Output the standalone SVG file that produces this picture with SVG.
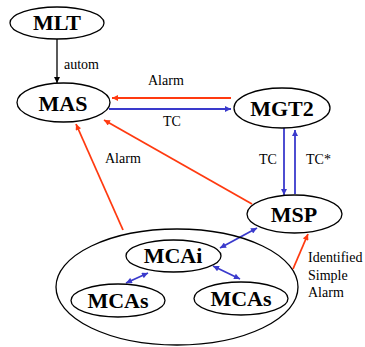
<svg xmlns="http://www.w3.org/2000/svg" width="365" height="347" viewBox="0 0 365 347">
<style>
.node{fill:#fff;stroke:#000;stroke-width:1.3}
.nt{font-weight:bold;font-size:22px;text-anchor:middle;fill:#000}
.lb{font-size:14px;fill:#000}
.k{stroke:#000;stroke-width:1.3;fill:none}
.r{stroke:#ff3a10;stroke-width:1.8;fill:none}
.b{stroke:#3a3acc;stroke-width:1.8;fill:none}
</style>
<defs>
<marker id="ak" viewBox="0 0 10 10" refX="10" refY="5" markerWidth="7" markerHeight="6" orient="auto" markerUnits="userSpaceOnUse"><path d="M0,0L10,5L0,10z" fill="#000"/></marker>
<marker id="ar" viewBox="0 0 10 10" refX="10" refY="5" markerWidth="7" markerHeight="6" orient="auto" markerUnits="userSpaceOnUse"><path d="M0,0L10,5L0,10z" fill="#ff3a10"/></marker>
<marker id="ab" viewBox="0 0 10 10" refX="10" refY="5" markerWidth="7" markerHeight="6" orient="auto-start-reverse" markerUnits="userSpaceOnUse"><path d="M0,0L10,5L0,10z" fill="#3a3acc"/></marker>
</defs>
<g font-family="Liberation Serif, serif">
<g id="connectors">
<line class="k" x1="57" y1="39" x2="57" y2="83" marker-end="url(#ak)"/>
<line class="r" x1="231" y1="98" x2="112" y2="98" marker-end="url(#ar)"/>
<line class="b" x1="109" y1="109" x2="231" y2="109" marker-end="url(#ab)"/>
<line class="b" x1="284" y1="127" x2="284" y2="195" marker-end="url(#ab)"/>
<line class="b" x1="295" y1="194" x2="295" y2="130" marker-end="url(#ab)"/>
<line class="r" x1="252" y1="204" x2="104" y2="120" marker-end="url(#ar)"/>
<line class="r" x1="123" y1="230" x2="76" y2="124" marker-end="url(#ar)"/>
<line class="r" x1="293" y1="269" x2="308" y2="234" marker-end="url(#ar)"/>
<line class="b" x1="220" y1="248" x2="257" y2="228" marker-start="url(#ab)" marker-end="url(#ab)"/>
<line class="b" x1="126" y1="283" x2="148" y2="273" marker-start="url(#ab)" marker-end="url(#ab)"/>
<line class="b" x1="213" y1="266" x2="240" y2="279" marker-start="url(#ab)" marker-end="url(#ab)"/>
<text class="lb" x="64" y="69">autom</text>
<text class="lb" x="148" y="85">Alarm</text>
<text class="lb" x="163" y="126">TC</text>
<text class="lb" x="259" y="164">TC</text>
<text class="lb" x="306" y="164">TC*</text>
<text class="lb" x="105" y="163">Alarm</text>
<text class="lb" x="308" y="262">Identified</text>
<text class="lb" x="308" y="280">Simple</text>
<text class="lb" x="308" y="297">Alarm</text>
</g>
<g id="group">
<ellipse class="k" cx="177" cy="287" rx="121" ry="58"/>
</g>
<g id="MLT">
<ellipse class="node" cx="57" cy="23" rx="47" ry="16"/>
<text class="nt" x="57" y="30">MLT</text>
</g>
<g id="MAS">
<ellipse class="node" cx="63.5" cy="102.5" rx="46.5" ry="19.5"/>
<text class="nt" x="63" y="111">MAS</text>
</g>
<g id="MGT2">
<ellipse class="node" cx="282" cy="108" rx="48" ry="20"/>
<text class="nt" x="282" y="116">MGT2</text>
</g>
<g id="MSP">
<ellipse class="node" cx="294.5" cy="214" rx="47.5" ry="19"/>
<text class="nt" x="294" y="222">MSP</text>
</g>
<g id="MCAi">
<ellipse class="node" cx="173.5" cy="256" rx="47.5" ry="16"/>
<text class="nt" x="173" y="263">MCAi</text>
</g>
<g id="MCAs1">
<ellipse class="node" cx="118" cy="300.5" rx="47" ry="16.5"/>
<text class="nt" x="118" y="308">MCAs</text>
</g>
<g id="MCAs2">
<ellipse class="node" cx="241" cy="298.5" rx="47" ry="16.5"/>
<text class="nt" x="241" y="306">MCAs</text>
</g>
</g>
</svg>
